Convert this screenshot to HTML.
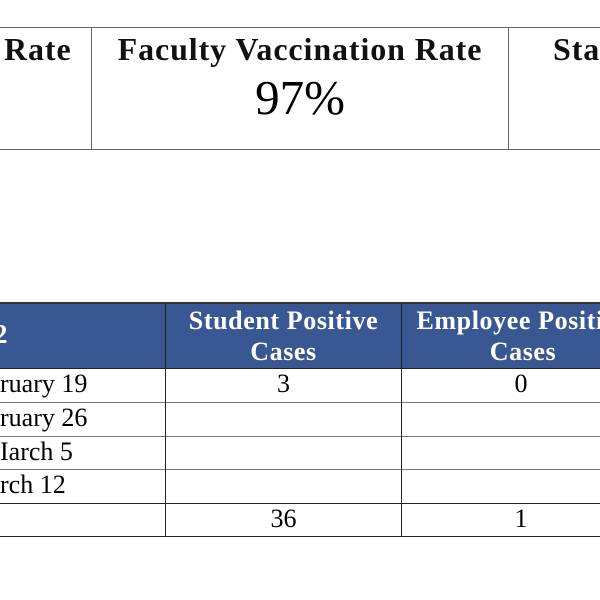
<!DOCTYPE html>
<html><head><meta charset="utf-8"><style>
body{margin:0;width:600px;height:600px;background:#fff;position:relative;overflow:hidden;font-family:"Liberation Serif",serif;}
.a{position:absolute;white-space:nowrap;}
.h{position:absolute;background:#666;}
.hd{font-weight:bold;font-size:32px;color:#111;letter-spacing:0.9px;}
.w{color:#fff;font-weight:bold;font-size:26px;letter-spacing:0.6px;text-align:center;}
.r{font-size:26px;color:#000;}
</style></head><body>
<!-- top table -->
<div class="h" style="left:0;top:27px;width:600px;height:1px;"></div>
<div class="h" style="left:0;top:149px;width:600px;height:1px;"></div>
<div class="h" style="left:91px;top:27px;width:1px;height:123px;"></div>
<div class="h" style="left:508px;top:27px;width:1px;height:123px;"></div>
<div class="a hd" style="left:4px;top:31px;">Rate</div>
<div class="a hd" style="left:92px;width:416px;top:31px;text-align:center;">Faculty Vaccination Rate</div>
<div class="a" style="left:92px;width:416px;top:69px;text-align:center;font-size:49px;">97%</div>
<div class="a hd" style="left:553px;top:31px;">Sta</div>
<!-- bottom table -->
<div style="position:absolute;left:0;top:303px;width:600px;height:65px;background:#395792;"></div>
<div class="h" style="left:0;top:302px;width:600px;height:2px;background:#333;"></div>
<div class="a w" style="left:-6px;top:319px;font-size:27px;">2</div>
<div class="a w" style="left:166px;width:235px;top:305px;line-height:31px;">Student Positive<br>Cases</div>
<div class="a w" style="left:401px;width:244px;top:305px;line-height:31px;">Employee Positive<br>Cases</div>
<div class="h" style="left:0;top:368px;width:600px;height:1px;background:#222;"></div>
<div class="h" style="left:0;top:402px;width:600px;height:1px;background:#777;"></div>
<div class="h" style="left:0;top:436px;width:600px;height:1px;background:#777;"></div>
<div class="h" style="left:0;top:469px;width:600px;height:1px;background:#777;"></div>
<div class="h" style="left:0;top:503px;width:600px;height:1px;background:#222;"></div>
<div class="h" style="left:0;top:536px;width:600px;height:1px;background:#222;"></div>
<div class="h" style="left:165px;top:303px;width:1px;height:234px;background:#222;"></div>
<div class="h" style="left:401px;top:303px;width:1px;height:234px;background:#222;"></div>
<div class="a r" style="left:0;top:369px;">ruary 19</div>
<div class="a r" style="left:0;top:403px;">ruary 26</div>
<div class="a r" style="left:0;top:437px;">Iarch 5</div>
<div class="a r" style="left:0;top:470px;">rch 12</div>
<div class="a r" style="left:166px;width:235px;text-align:center;top:369px;">3</div>
<div class="a r" style="left:401px;width:240px;text-align:center;top:369px;">0</div>
<div class="a r" style="left:166px;width:235px;text-align:center;top:504px;">36</div>
<div class="a r" style="left:401px;width:240px;text-align:center;top:504px;">1</div>
</body></html>
